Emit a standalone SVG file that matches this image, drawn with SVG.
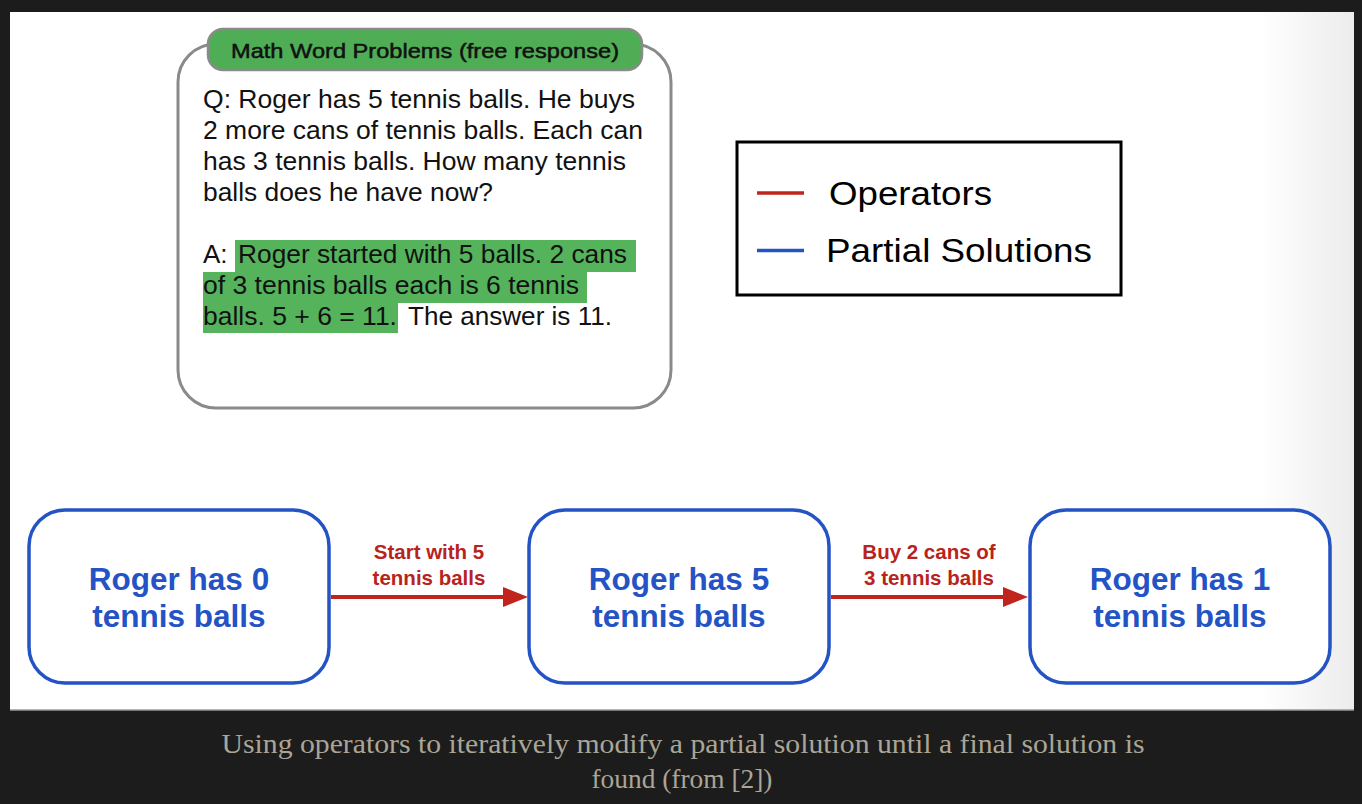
<svg xmlns="http://www.w3.org/2000/svg" width="1362" height="804" viewBox="0 0 1362 804">
<defs>
<linearGradient id="panelGrad" x1="0" y1="0" x2="1" y2="0">
<stop offset="0" stop-color="#ffffff"/>
<stop offset="0.93" stop-color="#ffffff"/>
<stop offset="1" stop-color="#ececec"/>
</linearGradient>
<style>
.sans{font-family:"Liberation Sans",Arial,sans-serif;}
.qtext{font-family:"Liberation Sans",Arial,sans-serif;font-size:26px;fill:#111;}
.node rect{fill:#fff;stroke:#2453c5;stroke-width:3.5;}
.nodetext{font-family:"Liberation Sans",Arial,sans-serif;font-size:31.5px;font-weight:bold;fill:#2453c5;text-anchor:middle;}
.oplabel{font-family:"Liberation Sans",Arial,sans-serif;font-size:20.5px;font-weight:bold;fill:#b8231c;text-anchor:middle;}
.conn{stroke:#c0241c;stroke-width:4;fill:none;}
.hl{fill:#55b35c;}
.caption{font-family:"Liberation Serif","Times New Roman",serif;font-size:28px;fill:#aba596;text-anchor:middle;}
.legtext{font-family:"Liberation Sans",Arial,sans-serif;font-size:34px;fill:#000;}
</style>
</defs>
<rect x="0" y="0" width="1362" height="804" fill="#1c1c1c"/>
<rect x="10" y="12" width="1344" height="698" fill="url(#panelGrad)"/>
<line x1="10" y1="710" x2="1354" y2="710" stroke="#9a9a9a" stroke-width="1.5"/>

<g id="problem">
<rect x="178" y="44" width="493" height="364" rx="38" ry="38" fill="#fff" stroke="#8a8a8a" stroke-width="3"/>
<rect x="208" y="29" width="434" height="41" rx="15" ry="15" fill="#4fae55" stroke="#8a8a8a" stroke-width="2.5"/>
<text class="sans" x="231" y="58" font-size="21" fill="#111" stroke="#111" stroke-width="0.5" textLength="388" lengthAdjust="spacingAndGlyphs">Math Word Problems (free response)</text>
<text class="qtext" x="203" y="108" textLength="432" lengthAdjust="spacingAndGlyphs">Q: Roger has 5 tennis balls. He buys</text>
<text class="qtext" x="203" y="139" textLength="440" lengthAdjust="spacingAndGlyphs">2 more cans of tennis balls. Each can</text>
<text class="qtext" x="203" y="170" textLength="423" lengthAdjust="spacingAndGlyphs">has 3 tennis balls. How many tennis</text>
<text class="qtext" x="203" y="201" textLength="290" lengthAdjust="spacingAndGlyphs">balls does he have now?</text>
<rect class="hl" x="235" y="240" width="401" height="32"/>
<rect class="hl" x="203" y="272" width="384" height="31"/>
<rect class="hl" x="203" y="303" width="195" height="30"/>
<text class="qtext" x="203" y="263">A:</text>
<text class="qtext" x="238" y="263" textLength="389" lengthAdjust="spacingAndGlyphs">Roger started with 5 balls. 2 cans</text>
<text class="qtext" x="203" y="294" textLength="376" lengthAdjust="spacingAndGlyphs">of 3 tennis balls each is 6 tennis</text>
<text class="qtext" x="203" y="325" textLength="194" lengthAdjust="spacingAndGlyphs">balls. 5 + 6 = 11.</text>
<text class="qtext" x="408" y="325" textLength="204" lengthAdjust="spacingAndGlyphs">The answer is 11.</text>
</g>

<g id="legend">
<rect x="737" y="142" width="384" height="153" fill="#fff" stroke="#000" stroke-width="3"/>
<line x1="757" y1="193" x2="804" y2="193" stroke="#c0241c" stroke-width="3.5"/>
<line x1="757" y1="250.5" x2="804" y2="250.5" stroke="#2453c5" stroke-width="3.5"/>
<text class="legtext" x="829" y="205" textLength="163" lengthAdjust="spacingAndGlyphs">Operators</text>
<text class="legtext" x="826" y="262" textLength="266" lengthAdjust="spacingAndGlyphs">Partial Solutions</text>
</g>

<g id="node0" class="node">
<rect x="29" y="510" width="300" height="173" rx="36" ry="36"/>
<text class="nodetext" x="179" y="590">Roger has 0</text>
<text class="nodetext" x="179" y="627">tennis balls</text>
</g>
<g id="node5" class="node">
<rect x="529" y="510" width="300" height="173" rx="36" ry="36"/>
<text class="nodetext" x="679" y="590">Roger has 5</text>
<text class="nodetext" x="679" y="627">tennis balls</text>
</g>
<g id="node1" class="node">
<rect x="1030" y="510" width="300" height="173" rx="36" ry="36"/>
<text class="nodetext" x="1180" y="590">Roger has 1</text>
<text class="nodetext" x="1180" y="627">tennis balls</text>
</g>

<g id="connectors">
<line class="conn" x1="331" y1="597" x2="505" y2="597"/>
<path d="M503,587 L528,597 L503,607 Z" fill="#c0241c"/>
<text class="oplabel" x="429" y="559">Start with 5</text>
<text class="oplabel" x="429" y="585">tennis balls</text>
<line class="conn" x1="831" y1="597" x2="1005" y2="597"/>
<path d="M1003,587 L1028,597 L1003,607 Z" fill="#c0241c"/>
<text class="oplabel" x="929" y="559">Buy 2 cans of</text>
<text class="oplabel" x="929" y="585">3 tennis balls</text>
</g>

<g id="caption">
<text class="caption" x="683" y="753" textLength="923" lengthAdjust="spacingAndGlyphs">Using operators to iteratively modify a partial solution until a final solution is</text>
<text class="caption" x="682" y="788" textLength="181" lengthAdjust="spacingAndGlyphs">found (from [2])</text>
</g>
</svg>
